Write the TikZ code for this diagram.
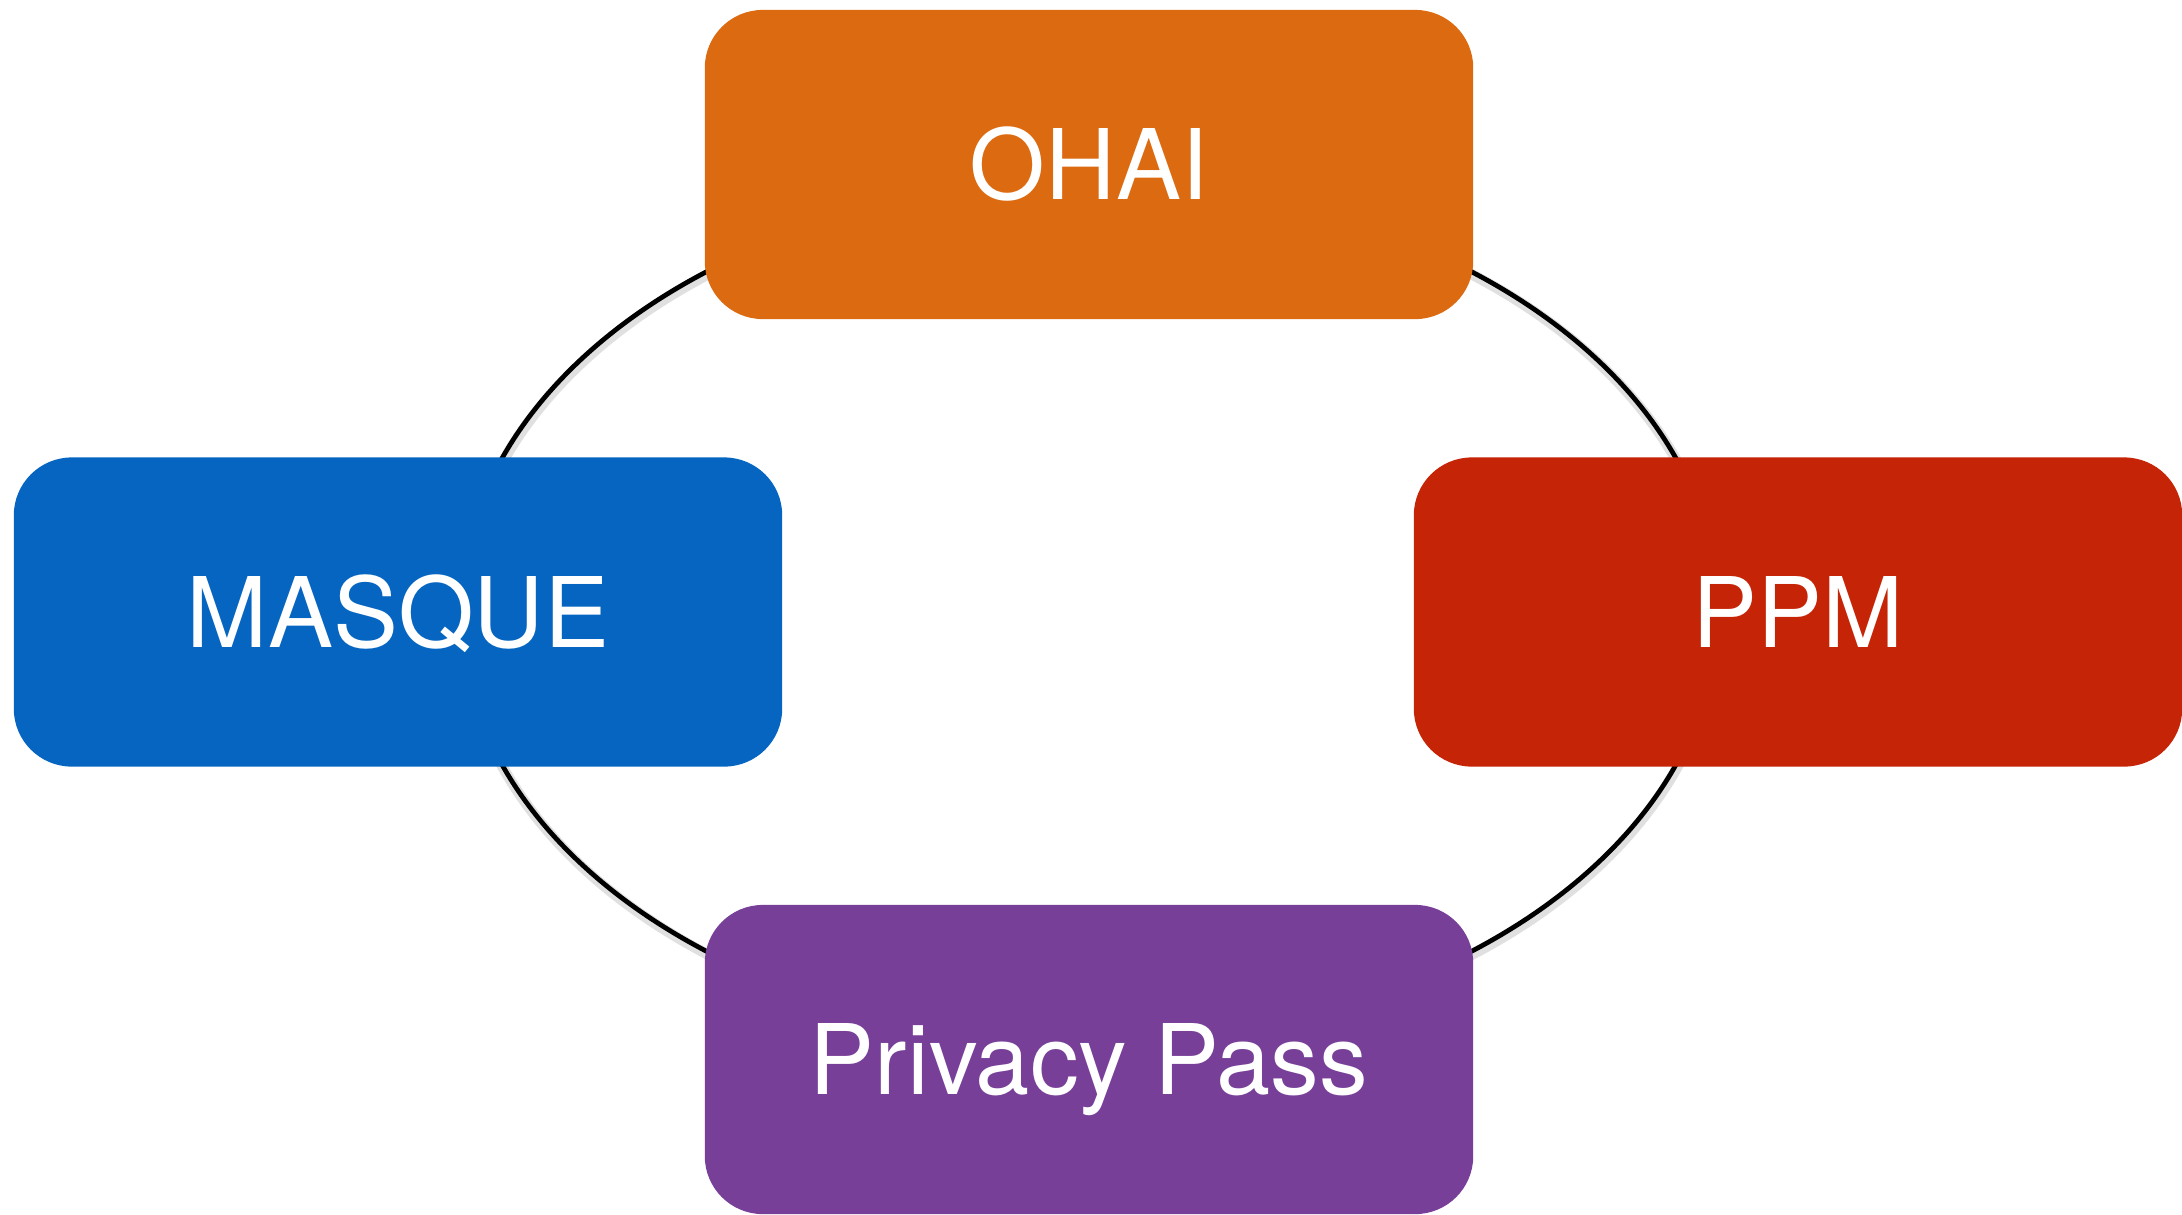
\documentclass[tikz,border=0pt]{standalone}
\usepackage{fontspec}
\setmainfont{TeX Gyre Heros}
\definecolor{ohaiorange}{RGB}{220,106,16}
\definecolor{masqueblue}{RGB}{5,101,192}
\definecolor{ppmred}{RGB}{197,36,6}
\definecolor{passpurple}{RGB}{120,63,153}
\begin{document}
\begin{tikzpicture}[
  x=0.01cm, y=-0.01cm,
  topic/.style={rectangle, rounded corners=0.58cm, draw=none,
    minimum width=7.68cm, minimum height=3.09cm, inner sep=0pt,
    text=white, text height=0.70cm, text depth=0cm,
    font=\fontsize{27.7pt}{33pt}\selectfont},
  ring/.style={line width=1.35pt, black},
  ringshadow/.style={line width=3pt, black, opacity=0.12}
]
\useasboundingbox (0,0) rectangle (2182,1214);

% ring joining the four topics
\coordinate (hub) at (1089,611.5);
\draw[ringshadow] ([shift={(1,3)}]hub) ellipse [x radius=6.28cm, y radius=4.28cm];
\draw[ring] (hub) ellipse [x radius=6.28cm, y radius=4.28cm];

% topic boxes
\node[topic, fill=ohaiorange] (ohai) at (1089,164.5) {OHAI};
\node[topic, fill=masqueblue] (masque) at (398,612) {MASQUE};
\node[topic, fill=ppmred] (ppm) at (1798,612) {PPM};
\node[topic, fill=passpurple] (pass) at (1089,1059.5) {Privacy Pass};
\end{tikzpicture}
\end{document}
